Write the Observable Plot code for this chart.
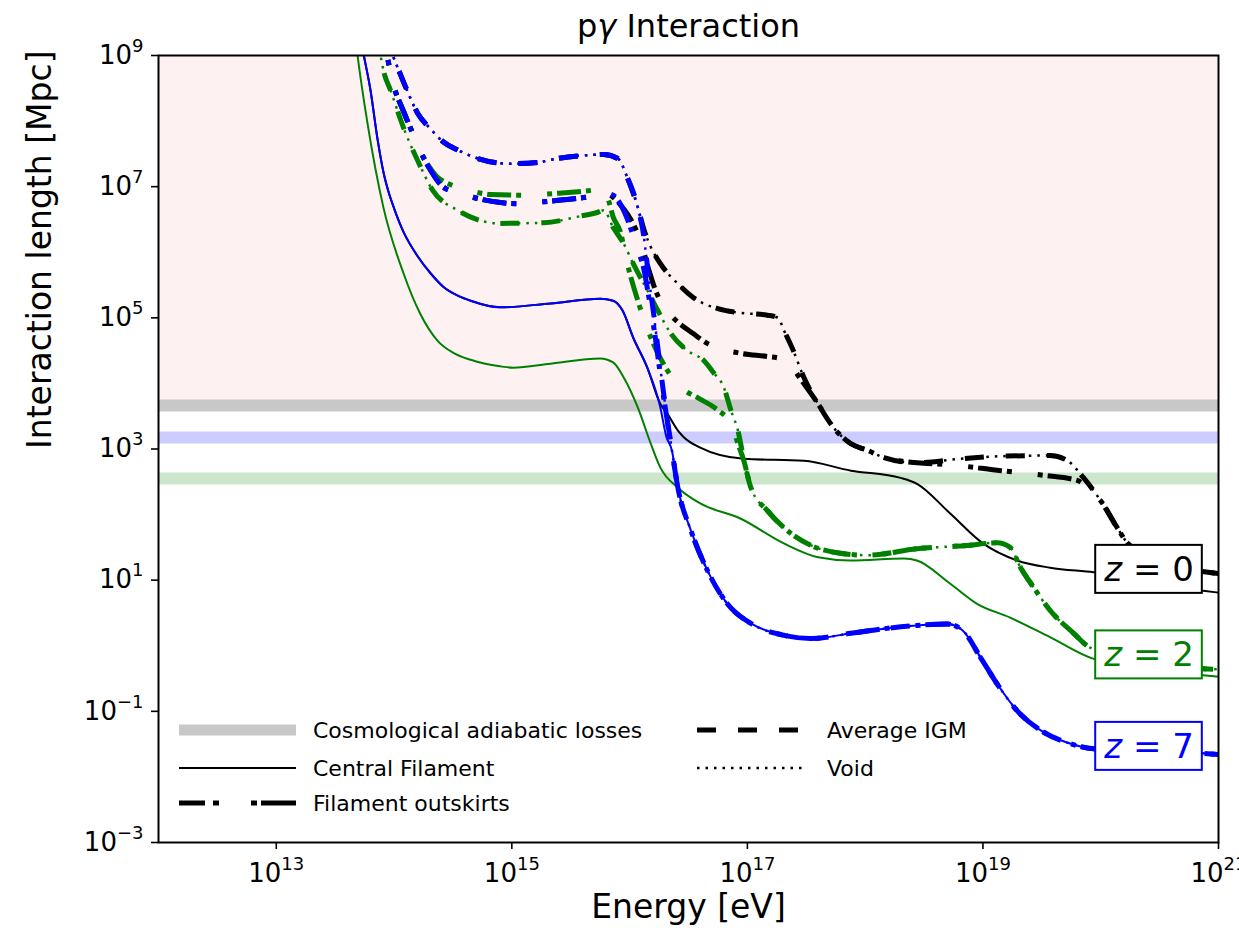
<!DOCTYPE html>
<html>
<head>
<meta charset="utf-8">
<script src="https://cdn.jsdelivr.net/npm/d3@7"></script>
<script src="https://cdn.jsdelivr.net/npm/@observablehq/plot@0.6"></script>
<style>
  html, body { margin: 0; padding: 0; background: #fff; overflow: hidden; }
</style>
</head>
<body>
<div id="chart"></div>
<script>
// ---------- DATA (points are [log10 Energy/eV, log10 Length/Mpc]) ----------
const xTicks = [1e13, 1e15, 1e17, 1e19, 1e21];
const yTicks = [1e-3, 1e-1, 1e1, 1e3, 1e5, 1e7, 1e9];

// cosmological adiabatic loss lengths (Mpc): grey, blue, green bands
const adiabaticLengths = [4600, 1500, 355];

// central filament, shared by z=0 and z=7 at low energy
const cfShared = [[13.70,9.40],[13.74,9.03],[13.80,8.47],[13.86,7.72],[13.91,7.22],[13.96,6.88],[14.00,6.67],[14.08,6.31],[14.20,5.94],[14.31,5.68],[14.42,5.47],[14.55,5.33],[14.65,5.26],[14.90,5.16],[15.33,5.22],[15.75,5.29],[15.86,5.26],[15.94,5.11],[16.03,4.70],[16.15,4.24]];
const cfHighZ0 = [[16.26,3.69],[16.32,3.54],[16.41,3.28],[16.46,3.18],[16.60,3.02],[16.97,2.85],[17.48,2.82],[17.88,2.67],[18.30,2.56],[18.44,2.47],[18.72,2.02],[19.00,1.56],[19.29,1.30],[19.57,1.19],[19.94,1.12],[20.87,0.84],[21.0,0.81]];
const cfHighZ7 = [[16.26,3.64],[16.31,3.20]];
const cfZ2 = [[13.65,9.60],[13.69,9.0],[13.775,7.96],[13.91,6.68],[14.08,5.68],[14.22,5.07],[14.37,4.65],[14.50,4.47],[14.65,4.36],[14.90,4.26],[15.01,4.24],[15.33,4.30],[15.75,4.38],[15.86,4.32],[15.95,4.09],[16.07,3.63],[16.18,3.08],[16.26,2.72],[16.41,2.41],[16.60,2.17],[16.94,1.94],[17.31,1.56],[17.60,1.35],[17.88,1.30],[18.33,1.33],[18.44,1.30],[18.72,0.95],[18.95,0.64],[19.23,0.43],[19.57,0.13],[19.94,-0.20],[20.87,-0.45],[21.0,-0.47]];

// filament outskirts, shared low-energy part (z=0, z=7; z=2 up to 10^14.2)
const outShared = [[13.88,9.35],[13.94,9.0],[13.98,8.65],[14.08,8.15],[14.15,7.85],[14.22,7.55]];
const outMidZ0Z7 = [[14.30,7.28],[14.42,6.99],[14.54,6.91],[14.71,6.82],[15.07,6.74],[15.27,6.77],[15.44,6.80],[15.73,6.88],[15.78,6.91]];
const outHighZ0 = [[15.86,6.84],[15.95,6.66],[16.01,6.50],[16.09,6.18],[16.16,5.75],[16.22,5.42],[16.30,5.14],[16.37,5.00],[16.54,4.76],[16.66,4.61],[16.94,4.46],[17.17,4.41],[17.28,4.38],[17.37,4.27],[17.45,4.07],[17.60,3.69],[17.73,3.33],[17.88,3.08],[18.02,2.98],[18.16,2.87],[18.44,2.79],[18.72,2.76],[19.15,2.67],[19.51,2.60],[19.80,2.52],[19.92,2.35],[20.00,2.21],[20.14,1.80],[20.23,1.56],[20.51,1.30],[20.91,1.12],[21.0,1.10]];
const outHighZ7 = [[15.86,6.87],[15.92,6.74],[15.98,6.51],[16.07,6.03],[16.12,5.75],[16.16,5.35],[16.21,4.80],[16.26,4.15],[16.30,3.66]];
const outHighZ2 = [[14.30,7.30],[14.36,7.16],[14.42,7.08],[14.48,7.03],[14.65,6.94],[14.82,6.88],[15.13,6.87],[15.39,6.90],[15.48,6.91],[15.70,6.95],[15.78,6.97],[15.82,6.80],[15.86,6.54],[15.92,6.32],[15.98,5.83],[16.07,5.26],[16.18,4.70],[16.32,4.20],[16.45,3.92],[16.58,3.78],[16.75,3.59],[16.86,3.39],[16.92,3.08],[16.97,2.82]];

// average IGM / void (coincide), shared by z=0 and z=7 at low energy
const igmShared = [[13.93,9.35],[13.99,9.0],[14.05,8.73],[14.11,8.47],[14.20,8.12],[14.31,7.88],[14.42,7.68],[14.55,7.55],[14.71,7.43],[14.99,7.35],[15.22,7.37],[15.39,7.43],[15.64,7.48],[15.78,7.49],[15.90,7.43],[15.98,7.14],[16.07,6.68]];
const igmHighZ0 = [[16.13,6.30],[16.18,6.08],[16.26,5.83],[16.41,5.52],[16.54,5.31],[16.75,5.14],[16.92,5.08],[17.17,5.04],[17.26,5.00],[17.31,4.81],[17.39,4.50],[17.48,4.09],[17.60,3.69],[17.73,3.33],[17.88,3.08],[18.02,2.98],[18.16,2.87],[18.44,2.79],[18.81,2.85],[19.15,2.89],[19.57,2.90],[19.72,2.82],[19.85,2.57],[20.00,2.21],[20.14,1.80],[20.23,1.56],[20.51,1.30],[20.91,1.12],[21.0,1.10]];
const igmHighZ7 = [[16.12,6.25],[16.16,5.65],[16.21,4.98],[16.26,4.25],[16.30,3.70]];
const igmZ2 = [[13.85,9.35],[13.885,9.0],[13.91,8.77],[13.97,8.47],[14.08,7.90],[14.20,7.40],[14.33,6.94],[14.54,6.64],[14.90,6.44],[15.27,6.45],[15.58,6.55],[15.73,6.61],[15.78,6.64],[15.86,6.38],[15.95,6.13],[16.03,5.83],[16.15,5.42],[16.24,5.11],[16.35,4.76],[16.49,4.50],[16.63,4.35],[16.71,4.17],[16.80,3.94],[16.86,3.59],[16.92,3.28],[16.96,2.93]];

// common high-energy tails
const tailZ2 = [[17.03,2.41],[17.17,2.06],[17.31,1.80],[17.54,1.53],[17.79,1.41],[18.02,1.38],[18.44,1.48],[18.87,1.53],[19.12,1.57],[19.23,1.50],[19.32,1.19],[19.43,0.89],[19.57,0.54],[19.77,0.19],[19.91,-0.03],[20.34,-0.23],[20.87,-0.35],[21.0,-0.36]];
const tailZ7 = [[16.36,2.97],[16.41,2.41],[16.52,1.76],[16.66,1.15],[16.83,0.64],[17.03,0.34],[17.31,0.16],[17.54,0.11],[17.88,0.19],[18.16,0.26],[18.44,0.31],[18.70,0.33],[18.83,0.23],[18.98,-0.18],[19.12,-0.58],[19.29,-0.99],[19.49,-1.29],[19.72,-1.48],[19.94,-1.57],[20.87,-1.64],[21.0,-1.66]];

// redshift annotations [log10 E, log10 L]
const zLabels = [
  {label: "z = 0", e: 20.41, l: 1.155, color: "#000000"},
  {label: "z = 2", e: 20.41, l: -0.149, color: "#008000"},
  {label: "z = 7", e: 20.41, l: -1.544, color: "#0000ff"}
];

// ---------- STYLES ----------
const colors = {z0: "#000000", z2: "#008000", z7: "#0000ff"};
const envStyle = {
  cf:   {strokeWidth: 2,   strokeDasharray: null},
  out:  {strokeWidth: 5,   strokeDasharray: "24,5,5,26,5,5"},
  igm:  {strokeWidth: 5,   strokeDasharray: "19,22"},
  void: {strokeWidth: 2.5, strokeDasharray: "2.5,6"}
};
const bandColors = ["#c8c8c8", "#ccccff", "#cce6cc"];

const series = [
  {z: "z0", env: "cf",   pts: [...cfShared, ...cfHighZ0]},
  {z: "z0", env: "out",  pts: [...outShared, ...outMidZ0Z7, ...outHighZ0]},
  {z: "z0", env: "igm",  pts: [...igmShared, ...igmHighZ0]},
  {z: "z0", env: "void", pts: [...igmShared, ...igmHighZ0]},
  {z: "z2", env: "cf",   pts: cfZ2},
  {z: "z2", env: "out",  pts: [...outShared, ...outHighZ2, ...tailZ2]},
  {z: "z2", env: "igm",  pts: [...igmZ2, ...tailZ2]},
  {z: "z2", env: "void", pts: [...igmZ2, ...tailZ2]},
  {z: "z7", env: "cf",   pts: [...cfShared, ...cfHighZ7, ...tailZ7]},
  {z: "z7", env: "out",  pts: [...outShared, ...outMidZ0Z7, ...outHighZ7, ...tailZ7]},
  {z: "z7", env: "igm",  pts: [...igmShared, ...igmHighZ7, ...tailZ7]},
  {z: "z7", env: "void", pts: [...igmShared, ...igmHighZ7, ...tailZ7]}
];

const fmt = d => {
  const e = Math.round(Math.log10(d));
  return "10^" + (e < 0 ? "\u2212" + (-e) : String(e));
};

const lineMarks = series.map(s => Plot.line(s.pts, {
  x: d => 10 ** d[0],
  y: d => 10 ** d[1],
  stroke: colors[s.z],
  strokeWidth: envStyle[s.env].strokeWidth,
  strokeDasharray: envStyle[s.env].strokeDasharray,
  strokeLinecap: "butt",
  strokeLinejoin: "round",
  curve: "monotone-x",
  clip: true
}));

const chart = Plot.plot({
  width: 1239,
  height: 949,
  marginLeft: 158,
  marginRight: 21,
  marginTop: 55,
  marginBottom: 107,
  style: {fontFamily: "DejaVu Sans, sans-serif", fontSize: "25px", background: "white", color: "black"},
  x: {type: "log", domain: [1e12, 1e21]},
  y: {type: "log", domain: [1e-3, 1e9]},
  marks: [
    Plot.rect([{x1: 1e12, x2: 1e21, y1: adiabaticLengths[0], y2: 1e9}], {x1: "x1", x2: "x2", y1: "y1", y2: "y2", fill: "#fdf1f1"}),
    ...adiabaticLengths.map((v, i) => Plot.ruleY([v], {stroke: bandColors[i], strokeWidth: 12})),
    ...lineMarks,
    Plot.text(zLabels, {x: d => 10 ** d.e, y: d => 10 ** d.l, text: "label", fill: "color", fontSize: 34}),
    Plot.axisX({ticks: xTicks, tickFormat: fmt, tickSize: 7, tickPadding: 14, fontSize: 26, strokeWidth: 1.6, label: null}),
    Plot.axisY({ticks: yTicks, tickFormat: fmt, tickSize: 7, tickPadding: 8, fontSize: 26, strokeWidth: 1.6, label: null}),
    Plot.frame({stroke: "black", strokeWidth: 2}),
    Plot.text(["Energy [eV]"], {frameAnchor: "bottom", dy: 75, fontSize: 33}),
    Plot.text(["Interaction length [Mpc]"], {frameAnchor: "left", dx: -118, rotate: -90, fontSize: 33}),
    Plot.text(["pγ Interaction"], {frameAnchor: "top", dy: -41, fontSize: 32})
  ]
});

document.getElementById("chart").append(chart);

const NS = "http://www.w3.org/2000/svg";
const svg = chart.tagName.toLowerCase() === "svg" ? chart : chart.querySelector("svg");

// superscript tick labels
svg.querySelectorAll('g[aria-label$="tick label"] text').forEach(t => {
  const s = t.textContent;
  if (!s.includes("^")) return;
  const [b, e] = s.split("^");
  t.setAttribute("font-size", "26");
  t.textContent = b;
  const ts = document.createElementNS(NS, "tspan");
  ts.setAttribute("dy", "-12");
  ts.setAttribute("font-size", "18");
  ts.textContent = e;
  t.appendChild(ts);
});

// title with italic gamma, redshift boxes
svg.querySelectorAll("text").forEach(t => {
  const s = t.textContent;
  if (s === "pγ Interaction") {
    t.textContent = "p";
    const g = document.createElementNS(NS, "tspan");
    g.setAttribute("font-style", "italic");
    g.textContent = "γ";
    const r = document.createElementNS(NS, "tspan");
    r.textContent = " Interaction";
    t.appendChild(g); t.appendChild(r);
  }
  const zl = zLabels.find(d => d.label === s);
  if (zl) {
    t.textContent = "";
    const a = document.createElementNS(NS, "tspan");
    a.setAttribute("font-style", "italic");
    a.textContent = "z";
    const b = document.createElementNS(NS, "tspan");
    b.textContent = " = " + s.split("= ")[1];
    t.appendChild(a); t.appendChild(b);
    const bb = t.getBBox();
    const rect = document.createElementNS(NS, "rect");
    const padX = 8, padY = 4;
    rect.setAttribute("x", bb.x - padX);
    rect.setAttribute("y", bb.y - padY);
    rect.setAttribute("width", bb.width + 2 * padX);
    rect.setAttribute("height", bb.height + 2 * padY);
    rect.setAttribute("fill", "white");
    rect.setAttribute("stroke", zl.color);
    rect.setAttribute("stroke-width", "2");
    if (t.getAttribute("transform")) rect.setAttribute("transform", t.getAttribute("transform"));
    t.parentNode.insertBefore(rect, t);
  }
});

// legend (inside the plot area, lower left)
const legendItems = [
  {label: "Cosmological adiabatic losses", col: 0, row: 0, kind: "band"},
  {label: "Central Filament", col: 0, row: 1, kind: "cf"},
  {label: "Filament outskirts", col: 0, row: 2, kind: "out"},
  {label: "Average IGM", col: 1, row: 0, kind: "igm"},
  {label: "Void", col: 1, row: 1, kind: "void"}
];
const colX = [[179, 296, 313], [697, 806, 827]];
const rowY = [730, 768, 803];
const lg = d3.select(svg).append("g")
  .attr("font-family", "DejaVu Sans, sans-serif")
  .attr("text-anchor", "start");
legendItems.forEach(it => {
  const [x1, x2, tx] = colX[it.col];
  const y = rowY[it.row];
  const ln = lg.append("line").attr("x1", x1).attr("x2", x2).attr("y1", y).attr("y2", y)
    .attr("stroke-linecap", "butt");
  if (it.kind === "band") {
    ln.attr("stroke", bandColors[0]).attr("stroke-width", 11);
  } else {
    const st = envStyle[it.kind];
    ln.attr("stroke", "black").attr("stroke-width", st.strokeWidth);
    if (it.kind === "out") ln.attr("stroke-dasharray", "26,8,6,32,6,4,40");
    else if (st.strokeDasharray) ln.attr("stroke-dasharray", st.strokeDasharray);
  }
  lg.append("text").attr("x", tx).attr("y", y).attr("dy", "0.35em")
    .attr("text-anchor", "start")
    .attr("font-size", 22).attr("fill", "black").text(it.label);
});
</script>
</body>
</html>
